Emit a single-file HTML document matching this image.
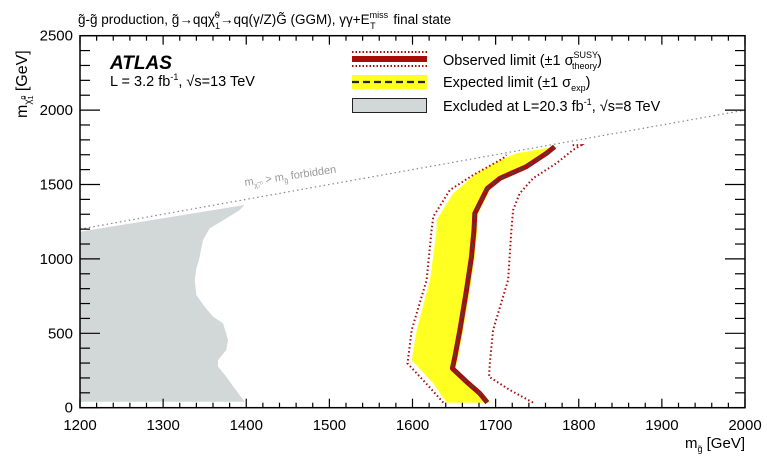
<!DOCTYPE html>
<html><head><meta charset="utf-8"><style>
html,body{margin:0;padding:0;background:#fff;}
svg{display:block;font-family:"Liberation Sans",sans-serif;}
</style></head><body>
<svg id="chart" width="767" height="459" viewBox="0 0 767 459">
<g id="plot"></g>
<g id="axes"></g>
<text transform="translate(245,186) rotate(-8.3)" font-size="11" fill="#999">m<tspan font-size="7" dy="3">χ̃₁⁰</tspan><tspan dy="-3"> &gt; m</tspan><tspan font-size="7" dy="3">g̃</tspan><tspan dy="-3"> forbidden</tspan></text>
<text x="78" y="24" font-size="13.5" fill="#000">g̃-g̃ production, g̃→qqχ̃<tspan font-size="9" dy="-6">0</tspan><tspan font-size="9" dx="-5" dy="11">1</tspan><tspan dy="-5">→qq(γ/Z)G̃ (GGM), γγ+E</tspan><tspan font-size="9" dy="-6">miss</tspan><tspan font-size="9" dx="-18" dy="11">T</tspan><tspan dx="14" dy="-5"> final state</tspan></text>
<text x="110" y="69" font-size="19" font-weight="bold" font-style="italic">ATLAS</text>
<text x="110" y="86" font-size="14.5">L = 3.2 fb<tspan font-size="9" dy="-6">-1</tspan><tspan dy="6">, √s=13 TeV</tspan></text>
<g>
<rect x="352" y="56" width="75" height="6" fill="#a80d0d"/>
<line x1="352" y1="52" x2="427" y2="52" stroke="#a80d0d" stroke-width="2" stroke-dasharray="1.5,2"/>
<line x1="352" y1="66" x2="427" y2="66" stroke="#a80d0d" stroke-width="2" stroke-dasharray="1.5,2"/>
<text x="443" y="65" font-size="14.5">Observed limit (±1 σ<tspan font-size="9" dy="-7">SUSY</tspan><tspan font-size="9" dx="-26" dy="11">theory</tspan><tspan dy="-4">)</tspan></text>
<rect x="352" y="75" width="75" height="14" fill="#ffff22"/>
<line x1="352" y1="82" x2="427" y2="82" stroke="#222" stroke-width="2.2" stroke-dasharray="7,4"/>
<text x="443" y="87" font-size="14.5">Expected limit (±1 σ<tspan font-size="9" dy="4">exp</tspan><tspan dy="-4">)</tspan></text>
<rect x="352.5" y="98.5" width="74" height="14" fill="#d2d7d7" stroke="#222" stroke-width="1"/>
<text x="443" y="111" font-size="14.5">Excluded at L=20.3 fb<tspan font-size="9" dy="-6">-1</tspan><tspan dy="6">, √s=8 TeV</tspan></text>
</g>
<text transform="translate(27,118) rotate(-90)" font-size="16">m<tspan font-size="10" dy="4">χ̃</tspan><tspan font-size="7" dy="2">1</tspan><tspan font-size="7" dx="-4" dy="-7">0</tspan><tspan dy="1"> [GeV]</tspan></text>
<text x="745" y="448" font-size="15" text-anchor="end">m<tspan font-size="9" dy="4">g̃</tspan><tspan dy="-4"> [GeV]</tspan></text>
<script>
const xTicks=[1200,1300,1400,1500,1600,1700,1800,1900,2000];
const yTicks=[0,500,1000,1500,2000,2500];
const grayX=[1200,1398,1386,1376,1366,1366,1376,1378,1372,1360,1350,1340,1338,1340,1343,1348,1356,1376,1392,1398,1200];
const grayY=[40,40,130,208,276,320,388,455,567,612,679,757,858,936,992,1127,1205,1272,1328,1362,1183];
const obsX=[1690,1681,1665,1648,1651,1657,1665,1671,1674,1675,1690,1705,1737,1761,1771];
const obsY=[34,96,175,264,343,522,791,1015,1194,1306,1474,1541,1620,1709,1754];
const bandLoX=[1641,1625,1599,1605,1621,1629,1629,1649,1677,1705,1725,1761];
const bandLoY=[34,164,320,522,858,1194,1261,1440,1575,1664,1709,1743];
const bandHiX=[1694,1685,1669,1652,1655,1661,1669,1675,1678,1679,1694,1709,1741,1765,1775];
const bandHiY=[34,96,175,264,343,522,791,1015,1194,1306,1474,1541,1620,1709,1754];
const obsLoX=[1637,1620,1594,1599,1617,1623,1625,1645,1673,1709,1713];
const obsLoY=[34,141,298,522,858,1194,1284,1463,1564,1676,1698];
const obsHiX=[1745,1717,1692,1693,1697,1715,1719,1721,1729,1745,1773,1793,1803,1790];
const obsHiY=[34,119,208,298,522,858,1194,1328,1440,1541,1642,1732,1765,1765];
const diagX=[1200,2000];
const diagY=[1200,2000];
const NS='http://www.w3.org/2000/svg';
const X=v=>80+(v-1200)*0.83125;
const Y=v=>407.7-v*0.1488;
const plot=document.getElementById('plot');
const axes=document.getElementById('axes');
function mk(tag,attrs,parent){const e=document.createElementNS(NS,tag);for(const k in attrs)e.setAttribute(k,attrs[k]);parent.appendChild(e);return e;}
function pts(xs,ys){return xs.map((x,i)=>X(x).toFixed(1)+','+Y(ys[i]).toFixed(1)).join(' ');}
let e=mk('polygon',{points:pts(grayX,grayY),fill:'#d2d7d7'},plot);


e=mk('polyline',{points:pts(diagX,diagY),fill:'none',stroke:'#888','stroke-width':1.2,'stroke-dasharray':'1.5,3'},plot);


const bx=bandLoX.concat(bandHiX.slice().reverse()), by=bandLoY.concat(bandHiY.slice().reverse());
e=mk('polygon',{points:pts(bx,by),fill:'#ffff22'},plot);


e=mk('polyline',{points:pts(obsLoX,obsLoY),fill:'none',stroke:'#a80d0d','stroke-width':2,'stroke-dasharray':'1.5,2.5'},plot);


e=mk('polyline',{points:pts(obsHiX,obsHiY),fill:'none',stroke:'#a80d0d','stroke-width':2,'stroke-dasharray':'1.5,2.5'},plot);


e=mk('polyline',{points:pts(obsX,obsY),fill:'none',stroke:'#a80d0d','stroke-width':5,'stroke-linejoin':'round'},plot);


e=mk('polyline',{points:pts(obsX,obsY),fill:'none',stroke:'#444','stroke-width':1.6,'stroke-dasharray':'6,4'},plot);


e=mk('rect',{x:80,y:Y(2500),width:X(2000)-80,height:Y(0)-Y(2500),fill:'none',stroke:'#000','stroke-width':1.5},axes);


for(let v=1200;v<=2000;v+=20){const maj=(v%100===0);const l=maj?9:5;
 mk('line',{x1:X(v),x2:X(v),y1:Y(0),y2:Y(0)-l,stroke:'#000','stroke-width':1.2},axes);
 mk('line',{x1:X(v),x2:X(v),y1:Y(2500),y2:Y(2500)+l,stroke:'#000','stroke-width':1.2},axes);}
for(let v=0;v<=2500;v+=100){const maj=(v%500===0);const l=maj?20:10;
 mk('line',{x1:80,x2:80+l,y1:Y(v),y2:Y(v),stroke:'#000','stroke-width':1.2},axes);
 mk('line',{x1:X(2000),x2:X(2000)-l,y1:Y(v),y2:Y(v),stroke:'#000','stroke-width':1.2},axes);}
xTicks.forEach(v=>{const t=mk('text',{x:X(v),y:430,'font-size':15,'text-anchor':'middle'},axes);t.textContent=v;

});
yTicks.forEach(v=>{const t=mk('text',{x:73,y:Y(v)+5,'font-size':15,'text-anchor':'end'},axes);t.textContent=v;

});
</script>
</svg>
</body></html>
